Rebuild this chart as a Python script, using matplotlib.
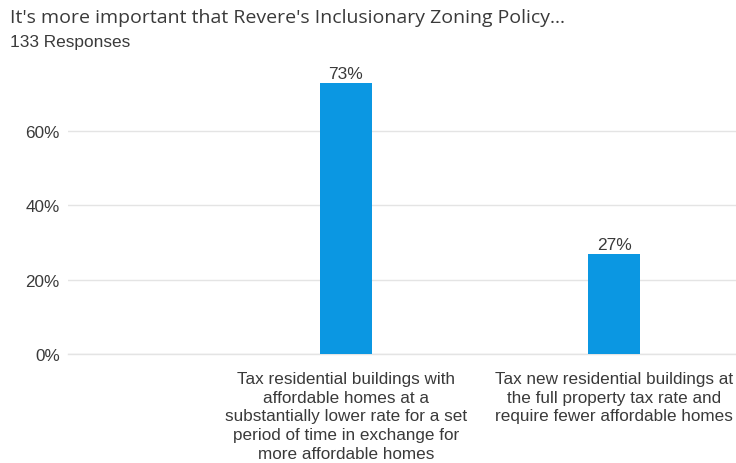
import matplotlib
matplotlib.use("Agg")
import matplotlib.pyplot as plt
from matplotlib.ticker import FuncFormatter

title = "It's more important that Revere's Inclusionary Zoning Policy..."
subtitle = "133 Responses"
categories = [
    "Tax residential buildings with\naffordable homes at a\nsubstantially lower rate for a set\nperiod of time in exchange for\nmore affordable homes",
    "Tax new residential buildings at\nthe full property tax rate and\nrequire fewer affordable homes",
]
shares = [73, 27]
y_ticks = [0, 20, 40, 60]

BAR = "#0b97e2"
TEXT = "#3a3a3a"
GRID = "#e4e4e4"

plt.rcParams["font.family"] = ["Liberation Sans", "DejaVu Sans"]

fig = plt.figure(figsize=(7.36, 4.64), dpi=100, facecolor="white")
ax = fig.add_axes([68 / 736, 109 / 464, 668 / 736, (355 - 76.4) / 464])

x = list(range(len(categories)))
bars = ax.bar(x, shares, width=0.194, color=BAR, zorder=3)
for b, v in zip(bars, shares):
    ax.text(b.get_x() + b.get_width() / 2, v + 0.5, f"{v}%", ha="center", va="bottom",
            fontsize=12.5, color=TEXT)

ax.set_xlim(-1.037, 1.455)
ax.set_ylim(0, 75)
ax.set_yticks(y_ticks)
ax.yaxis.set_major_formatter(FuncFormatter(lambda v, _: f"{v:.0f}%"))
ax.set_xticks(x)
ax.set_xticklabels(categories, fontsize=12.3, color=TEXT, linespacing=1.32)
ax.tick_params(axis="x", length=0, pad=12)
ax.tick_params(axis="y", length=0, pad=6, labelsize=12.3, labelcolor=TEXT)
ax.grid(axis="y", color=GRID, linewidth=1, zorder=0)
# baseline gridline sits on the axes edge, draw it unclipped
ax.axhline(0, color=GRID, linewidth=1, zorder=1, clip_on=False)
for s in ax.spines.values():
    s.set_visible(False)

fig.text(10 / 736, 1 - 18 / 464, title, fontsize=14, color=TEXT, family=["Open Sans", "DejaVu Sans"],
         va="center", ha="left")
fig.text(10 / 736, 1 - 43 / 464, subtitle, fontsize=12.4, color=TEXT, va="center", ha="left")

fig.savefig("out.png", dpi=100, facecolor=fig.get_facecolor())
